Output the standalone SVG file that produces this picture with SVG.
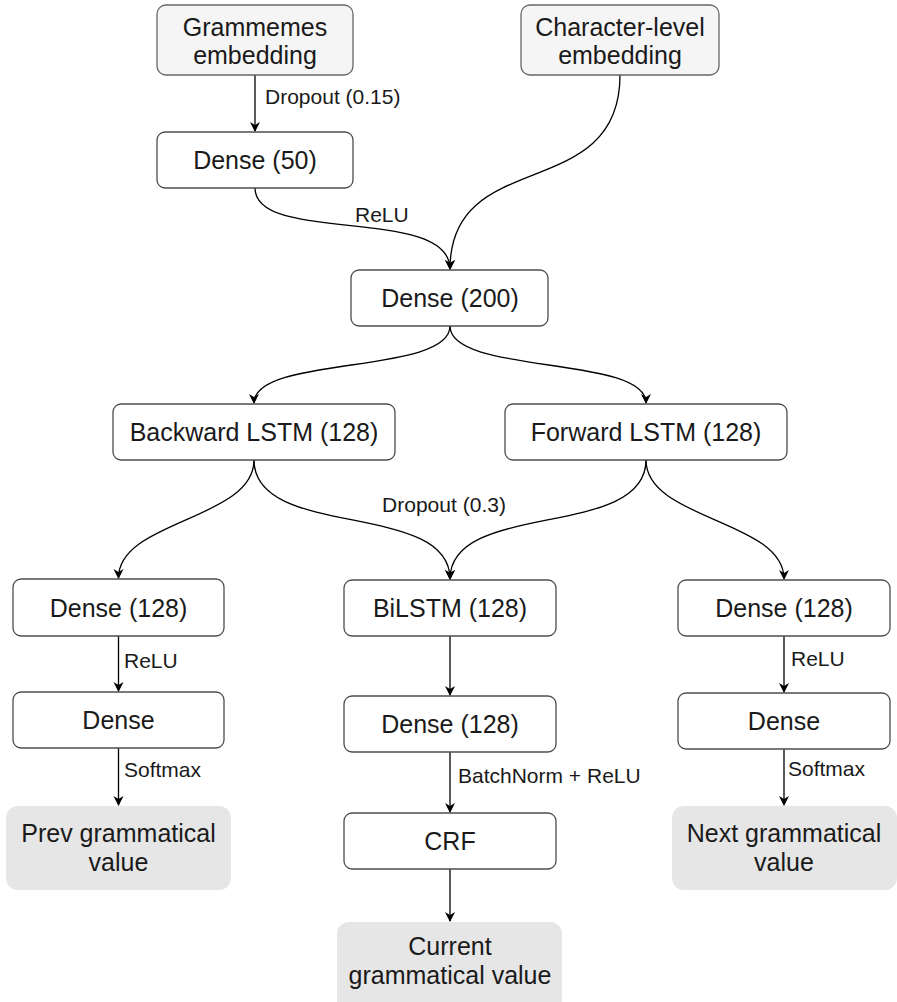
<svg xmlns="http://www.w3.org/2000/svg" width="897" height="1002" viewBox="0 0 897 1002">
<style>
.n{fill:#ffffff;stroke:#4d4d4d;stroke-width:1.3}
.in{fill:#f5f5f5;stroke:#666666;stroke-width:1.3}
.out{fill:#e6e6e6;stroke:none}
.t{font-family:"Liberation Sans",Arial,sans-serif;font-size:25px;fill:#1a1a1a;text-anchor:middle}
.l{font-family:"Liberation Sans",Arial,sans-serif;font-size:21px;fill:#1a1a1a}
.c{fill:none;stroke:#000;stroke-width:1.3}
</style>
<defs>
<marker id="a" markerWidth="10" markerHeight="12" refX="9" refY="6" orient="auto" markerUnits="userSpaceOnUse">
<path d="M0,1 L10,6 L0,11 L3,6 z" fill="#000"/>
</marker>
</defs>
<rect width="897" height="1002" fill="#ffffff"/>
<g id="connectors">
<path class="c" d="M255,75 L255,131" marker-end="url(#a)"/>
<path class="c" d="M255,188 C255,245 450,205 450,269" marker-end="url(#a)"/>
<path class="c" d="M620,75 C620,205 450,145 450,269" marker-end="url(#a)"/>
<path class="c" d="M450,326 C450,375 254,355 254,403" marker-end="url(#a)"/>
<path class="c" d="M450,326 C450,375 646,355 646,403" marker-end="url(#a)"/>
<path class="c" d="M254,460 C254,520 118.5,520 118.5,578" marker-end="url(#a)"/>
<path class="c" d="M254,460 C254,540 450,500 450,579" marker-end="url(#a)"/>
<path class="c" d="M646,460 C646,540 450,500 450,579" marker-end="url(#a)"/>
<path class="c" d="M646,460 C646,520 784,520 784,579" marker-end="url(#a)"/>
<path class="c" d="M118.5,636 L118.5,691" marker-end="url(#a)"/>
<path class="c" d="M118.5,748 L118.5,805" marker-end="url(#a)"/>
<path class="c" d="M450,636 L450,695" marker-end="url(#a)"/>
<path class="c" d="M450,752 L450,812" marker-end="url(#a)"/>
<path class="c" d="M450,869 L450,921" marker-end="url(#a)"/>
<path class="c" d="M784,636 L784,692" marker-end="url(#a)"/>
<path class="c" d="M784,749 L784,805" marker-end="url(#a)"/>
<text class="l" x="265" y="104">Dropout (0.15)</text>
<text class="l" x="355" y="222">ReLU</text>
<text class="l" x="382" y="512" textLength="124" lengthAdjust="spacingAndGlyphs">Dropout (0.3)</text>
<text class="l" x="124" y="668">ReLU</text>
<text class="l" x="124" y="777">Softmax</text>
<text class="l" x="458" y="783">BatchNorm + ReLU</text>
<text class="l" x="791" y="666">ReLU</text>
<text class="l" x="788" y="776">Softmax</text>
</g>
<g id="grammemes">
<rect class="in" x="157" y="5" width="196" height="70" rx="9"/>
<text class="t" x="255" y="36">Grammemes</text>
<text class="t" x="255" y="64">embedding</text>
</g>
<g id="charlevel">
<rect class="in" x="521" y="5" width="198" height="70" rx="9"/>
<text class="t" x="620" y="36">Character-level</text>
<text class="t" x="620" y="64">embedding</text>
</g>
<g id="dense50">
<rect class="n" x="157" y="132" width="196" height="56" rx="8"/>
<text class="t" x="255" y="169">Dense (50)</text>
</g>
<g id="dense200">
<rect class="n" x="351" y="270" width="197" height="56" rx="8"/>
<text class="t" x="450" y="307">Dense (200)</text>
</g>
<g id="backward">
<rect class="n" x="113" y="404" width="282" height="56" rx="8"/>
<text class="t" x="254" y="441">Backward LSTM (128)</text>
</g>
<g id="forward">
<rect class="n" x="505" y="404" width="282" height="56" rx="8"/>
<text class="t" x="646" y="441">Forward LSTM (128)</text>
</g>
<g id="denseL128">
<rect class="n" x="13" y="579" width="211" height="57" rx="8"/>
<text class="t" x="118.5" y="616.5">Dense (128)</text>
</g>
<g id="bilstm">
<rect class="n" x="344" y="580" width="212" height="56" rx="8"/>
<text class="t" x="450" y="617">BiLSTM (128)</text>
</g>
<g id="denseR128">
<rect class="n" x="678" y="580" width="212" height="56" rx="8"/>
<text class="t" x="784" y="617">Dense (128)</text>
</g>
<g id="denseL">
<rect class="n" x="13" y="692" width="211" height="56" rx="8"/>
<text class="t" x="118.5" y="729">Dense</text>
</g>
<g id="denseM128">
<rect class="n" x="344" y="696" width="212" height="56" rx="8"/>
<text class="t" x="450" y="733">Dense (128)</text>
</g>
<g id="denseR">
<rect class="n" x="678" y="693" width="212" height="56" rx="8"/>
<text class="t" x="784" y="730">Dense</text>
</g>
<g id="prev">
<rect class="out" x="6" y="806" width="225" height="84" rx="12"/>
<text class="t" x="118.5" y="842">Prev grammatical</text>
<text class="t" x="118.5" y="871">value</text>
</g>
<g id="crf">
<rect class="n" x="344" y="813" width="212" height="56" rx="8"/>
<text class="t" x="450" y="850">CRF</text>
</g>
<g id="next">
<rect class="out" x="672" y="806" width="225" height="84" rx="12"/>
<text class="t" x="784" y="842">Next grammatical</text>
<text class="t" x="784" y="871">value</text>
</g>
<g id="current">
<rect class="out" x="337" y="922" width="225" height="90" rx="12"/>
<text class="t" x="450" y="955">Current</text>
<text class="t" x="450" y="984">grammatical value</text>
</g>
</svg>
